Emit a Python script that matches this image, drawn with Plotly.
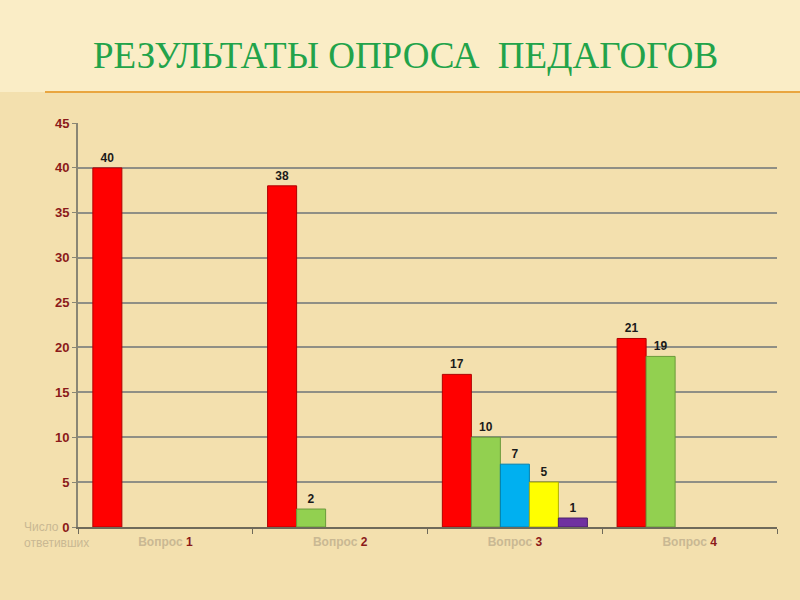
import plotly.graph_objects as go

# categories and series values
questions = ["Вопрос 1", "Вопрос 2", "Вопрос 3", "Вопрос 4"]
answer_1 = [40, 38, 17, 21]
answer_2 = [None, 2, 10, 19]
answer_3 = [None, None, 7, None]
answer_4 = [None, None, 5, None]
answer_5 = [None, None, 1, None]
y_ticks = [0, 5, 10, 15, 20, 25, 30, 35, 40, 45]

series = [
    ("Ряд 1", answer_1, "#FF0000", "#B00000"),
    ("Ряд 2", answer_2, "#92D050", "#6A9A3A"),
    ("Ряд 3", answer_3, "#00B0F0", "#0080B0"),
    ("Ряд 4", answer_4, "#FFFF00", "#B0B000"),
    ("Ряд 5", answer_5, "#7030A0", "#4A1F6A"),
]

W, H = 800, 600
L, R, T, B = 78, 23, 123, 73
pw, ph = W - L - R, H - T - B


def px(x):
    return (x - L) / pw


def py(y):
    return (H - B - y) / ph


# tick labels: word in faded colour, number in dark red
tick_text = []
for q in questions:
    word, num = q.split(" ")
    tick_text.append("<span style='color:#C9B893'>%s</span> %s" % (word, num))

fig = go.Figure()
for name, vals, color, edge in series:
    fig.add_trace(go.Bar(
        x=questions, y=vals, name=name,
        marker=dict(color=color, line=dict(color=edge, width=1)),
        text=vals, texttemplate="%{y}", textposition="outside",
        textfont=dict(family="Liberation Sans", size=12, color="#1a1a1a", weight="bold"),
        cliponaxis=False,
    ))

shapes = [
    # lighter header band
    dict(type="rect", xref="paper", yref="paper", x0=px(0), x1=px(W), y0=py(92), y1=py(0),
         fillcolor="#FAEDC6", line=dict(width=0), layer="below"),
    # orange rule under the title
    dict(type="line", xref="paper", yref="paper", x0=px(45), x1=px(W), y0=py(92), y1=py(92),
         line=dict(color="#E9A640", width=2)),
]

fig.update_layout(
    width=W, height=H,
    margin=dict(l=L, r=R, t=T, b=B),
    paper_bgcolor="#F3E0AE",
    plot_bgcolor="rgba(0,0,0,0)",
    barmode="group", bargap=0.17, bargroupgap=0,
    showlegend=False,
    shapes=shapes,
    annotations=[
        dict(text="РЕЗУЛЬТАТЫ ОПРОСА &nbsp;ПЕДАГОГОВ", xref="paper", yref="paper",
             x=px(405), y=py(55), xanchor="center", yanchor="middle", showarrow=False,
             font=dict(family="Liberation Serif", size=37, color="#22A34A")),
        dict(text="Число<br>ответивших", xref="paper", yref="paper",
             x=px(22), y=py(518), xanchor="left", yanchor="top", align="left", showarrow=False,
             font=dict(family="Liberation Sans", size=12, color="#C9B893")),
    ],
    xaxis=dict(
        tickvals=questions, ticktext=tick_text, tickson="boundaries",
        ticks="outside", ticklen=5, tickcolor="#6f6a5a",
        showline=True, linecolor="#6f6a5a", linewidth=1.5,
        tickfont=dict(family="Liberation Sans", size=12, color="#8B1A1A", weight="bold"),
        ticklabelstandoff=3,
        showgrid=False,
    ),
    yaxis=dict(
        range=[0, 45], tickvals=y_ticks,
        showgrid=True, gridcolor="#8f8f85", gridwidth=1.5,
        showline=True, linecolor="#8a8674", linewidth=2,
        ticks="outside", ticklen=4, tickcolor="#8a8674",
        tickfont=dict(family="Liberation Sans", size=13, color="#8B1A1A", weight="bold"),
        zeroline=False,
    ),
)

fig.write_html("out.html", config={"displayModeBar": False},
               post_script="document.body.style.margin='0';")
